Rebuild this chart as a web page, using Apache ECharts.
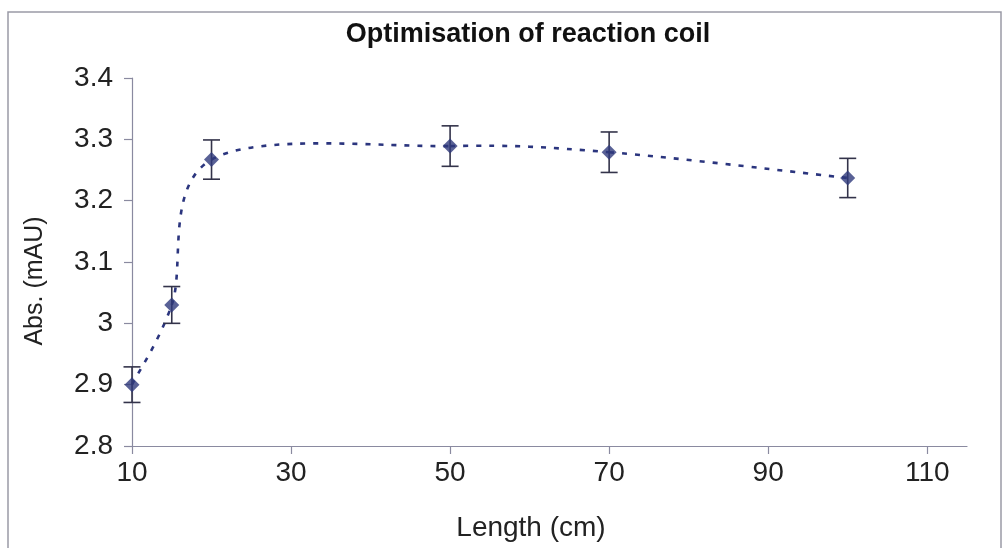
<!DOCTYPE html>
<html>
<head>
<meta charset="utf-8">
<script src="https://cdn.jsdelivr.net/npm/echarts@6/dist/echarts.min.js"></script>
<style>
  html, body { margin: 0; padding: 0; background: #fff; }
  #chart { width: 1003px; height: 548px; }
</style>
</head>
<body>
<div id="chart"></div>
<script>
// Reaction coil length vs absorbance, with error bars
const lengths = [10, 15, 20, 50, 70, 100];
const absorbance = [2.90, 3.03, 3.267, 3.289, 3.279, 3.237];
const errors = [0.029, 0.030, 0.032, 0.033, 0.033, 0.032];
const xTicks = [10, 30, 50, 70, 90, 110];
const yTicks = [2.8, 2.9, 3.0, 3.1, 3.2, 3.3, 3.4];

const titleText = 'Optimisation of reaction coil';
const xName = 'Length (cm)';
const yName = 'Abs. (mAU)';

const FONT = "'Liberation Sans', Arial, sans-serif";
const AXIS_COLOR = '#8a8aa0';
const MARK_COLOR = '#2f3a7c';
const CURVE_COLOR = '#2b357e';

const points = lengths.map((x, i) => [x, absorbance[i]]);
const bars = lengths.map((x, i) => [x, absorbance[i] - errors[i], absorbance[i] + errors[i]]);

// Smoothed connector: cubic Bezier segments whose control points follow the
// neighbouring points (Catmull-Rom style, one sixth of the neighbour span).
function renderCurveSegment(params, api) {
  const i = params.dataIndex;
  if (i >= points.length - 1) return null;
  const P = points.map(p => api.coord(p));
  const p0 = P[Math.max(i - 1, 0)];
  const p1 = P[i];
  const p2 = P[i + 1];
  const p3 = P[Math.min(i + 2, P.length - 1)];
  const k = 1 / 6;
  return {
    type: 'bezierCurve',
    shape: {
      x1: p1[0], y1: p1[1],
      cpx1: p1[0] + (p2[0] - p0[0]) * k, cpy1: p1[1] + (p2[1] - p0[1]) * k,
      cpx2: p2[0] - (p3[0] - p1[0]) * k, cpy2: p2[1] - (p3[1] - p1[1]) * k,
      x2: p2[0], y2: p2[1]
    },
    style: { stroke: CURVE_COLOR, lineWidth: 2.6, fill: null, lineDash: [5, 8], lineCap: 'butt' }
  };
}

const chart = echarts.init(document.getElementById('chart'), null, { renderer: 'canvas' });

chart.setOption({
  animation: false,
  backgroundColor: '#ffffff',
  grid: { left: 132, right: 36, top: 78, bottom: 102 },
  graphic: [
    {
      type: 'rect',
      shape: { x: 8, y: 12, width: 993, height: 560 },
      style: { fill: 'none', stroke: '#9a9aa6', lineWidth: 1.5 },
      silent: true
    },
    {
      type: 'text',
      x: 528, y: 35,
      style: {
        text: titleText, font: 'bold 27px ' + FONT, fill: '#111',
        align: 'center', verticalAlign: 'middle'
      }
    },
    {
      type: 'text',
      x: 531, y: 528,
      style: {
        text: xName, font: '28px ' + FONT, fill: '#222',
        align: 'center', verticalAlign: 'middle'
      }
    },
    {
      type: 'text',
      x: 35, y: 281, rotation: Math.PI / 2,
      style: {
        text: yName, font: '25px ' + FONT, fill: '#222',
        align: 'center', verticalAlign: 'middle'
      }
    }
  ],
  xAxis: {
    type: 'value',
    min: 10, max: 115, interval: 20,
    axisLine: { show: true, lineStyle: { color: AXIS_COLOR, width: 1.2 } },
    axisTick: { show: true, length: 8, customValues: xTicks, lineStyle: { color: AXIS_COLOR, width: 1.2 } },
    axisLabel: {
      customValues: xTicks, margin: 13,
      fontSize: 28, fontFamily: FONT, color: '#222'
    },
    splitLine: { show: false }
  },
  yAxis: {
    type: 'value',
    min: 2.8, max: 3.4, interval: 0.1,
    axisLine: { show: true, lineStyle: { color: AXIS_COLOR, width: 1.2 } },
    axisTick: { show: true, length: 8, customValues: yTicks, lineStyle: { color: AXIS_COLOR, width: 1.2 } },
    axisLabel: {
      customValues: yTicks, margin: 19,
      fontSize: 28, fontFamily: FONT, color: '#222',
      formatter: v => String(Math.round(v * 10) / 10)
    },
    splitLine: { show: false }
  },
  series: [
    {
      type: 'custom',
      data: points,
      renderItem: renderCurveSegment,
      z: 1
    },
    {
      type: 'custom',
      data: bars,
      renderItem: function (params, api) {
        const x = api.value(0);
        const lo = api.coord([x, api.value(1)]);
        const hi = api.coord([x, api.value(2)]);
        const half = 8.5;
        const style = { stroke: '#33334a', lineWidth: 1.6, fill: null };
        return {
          type: 'group',
          children: [
            { type: 'line', shape: { x1: lo[0], y1: lo[1], x2: hi[0], y2: hi[1] }, style },
            { type: 'line', shape: { x1: hi[0] - half, y1: hi[1], x2: hi[0] + half, y2: hi[1] }, style },
            { type: 'line', shape: { x1: lo[0] - half, y1: lo[1], x2: lo[0] + half, y2: lo[1] }, style }
          ]
        };
      },
      z: 2
    },
    {
      type: 'scatter',
      data: points,
      symbol: 'diamond',
      symbolSize: [15, 15],
      itemStyle: { color: MARK_COLOR },
      z: 3
    }
  ]
});
</script>
</body>
</html>
